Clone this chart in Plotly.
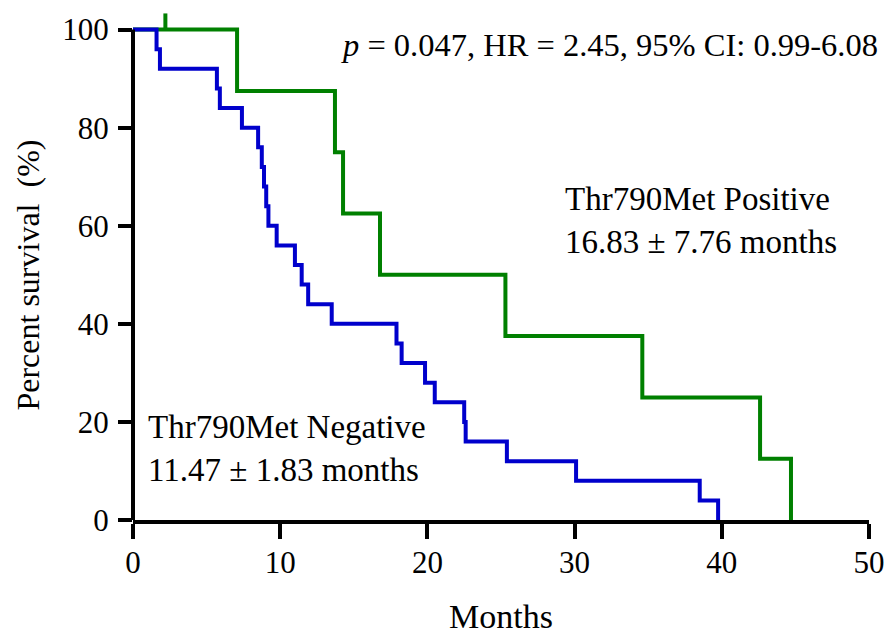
import plotly.graph_objects as go

# Kaplan-Meier data
neg_times = [0, 1.6, 1.83, 5.7, 5.9, 7.4, 8.5, 8.75, 8.9, 9.05, 9.2, 9.76, 11.0, 11.46,
             11.9, 13.5, 17.9, 18.25, 19.84, 20.5, 22.5, 22.6, 25.4, 30.1, 38.5, 39.75]
neg_surv = [100, 96, 92, 88, 84, 80, 76, 72, 68, 64, 60, 56, 52, 48,
            44, 40, 36, 32, 28, 24, 20, 16, 12, 8, 4, 0]
pos_times = [0, 7.07, 13.72, 14.27, 16.78, 25.3, 34.6, 42.6, 44.7]
pos_surv = [100, 87.5, 75, 62.5, 50, 37.5, 25, 12.5, 0]
pos_censor_t = [2.2]
pos_censor_s = [100]

x_ticks = [0, 10, 20, 30, 40, 50]
y_ticks = [0, 20, 40, 60, 80, 100]

FONT = "Liberation Serif"
BLUE = "#0000CC"
GREEN = "#008000"
X_RANGE = [0, 50]
Y_RANGE = [0, 104]
CENSOR_H = 3.3

cx, cy = [], []
for t, s in zip(pos_censor_t, pos_censor_s):
    cx += [t, t, None]
    cy += [s, s + CENSOR_H, None]

fig = go.Figure()
fig.add_trace(go.Scatter(x=pos_times, y=pos_surv, mode="lines", line_shape="hv",
                         line=dict(color=GREEN, width=4), showlegend=False))
fig.add_trace(go.Scatter(x=cx, y=cy, mode="lines",
                         line=dict(color=GREEN, width=4), showlegend=False))
fig.add_trace(go.Scatter(x=neg_times, y=neg_surv, mode="lines", line_shape="hv",
                         line=dict(color=BLUE, width=4), showlegend=False))

# y-axis line (only up to the last tick)
fig.add_shape(type="line", xref="paper", yref="paper", x0=0, x1=0,
              y0=0, y1=y_ticks[-1] / Y_RANGE[1], line=dict(color="black", width=4))

fig.add_annotation(x=1.015, y=0.932, xref="paper", yref="paper", xanchor="right", yanchor="middle",
                   text="<i>p</i> = 0.047, HR = 2.45, 95% CI: 0.99-6.08",
                   showarrow=False, font=dict(family=FONT, size=32.5, color="black"))
fig.add_annotation(x=29.2, y=61.0, xref="x", yref="y", xanchor="left", yanchor="middle",
                   align="left", text="Thr790Met Positive<br>16.83 ± 7.76 months",
                   showarrow=False, font=dict(family=FONT, size=33, color="black"))
fig.add_annotation(x=0.9, y=14.5, xref="x", yref="y", xanchor="left", yanchor="middle",
                   align="left", text="Thr790Met Negative<br>11.47 ± 1.83 months",
                   showarrow=False, font=dict(family=FONT, size=33, color="black"))
# y-axis title, centred on the 0-100 span
fig.add_annotation(x=-0.143, y=(y_ticks[0] + y_ticks[-1]) / 2, xref="paper", yref="y",
                   xanchor="center", yanchor="middle", textangle=-90,
                   text="Percent survival  (%)", showarrow=False,
                   font=dict(family=FONT, size=32, color="black"))

fig.update_layout(
    width=886, height=635,
    margin=dict(l=133, r=17, t=10, b=115),
    plot_bgcolor="white", paper_bgcolor="white",
    font=dict(family=FONT, size=31, color="black"),
)
fig.update_xaxes(range=X_RANGE, tickvals=x_ticks, ticks="outside", ticklen=15, tickwidth=4,
                 tickcolor="black", showline=True, linewidth=4, linecolor="black",
                 showgrid=False, zeroline=False, automargin=False, ticklabelstandoff=-3,
                 tickfont=dict(family=FONT, size=31),
                 title=dict(text="Months", font=dict(family=FONT, size=34), standoff=43))
fig.update_yaxes(range=Y_RANGE, tickvals=y_ticks, ticks="outside", ticklen=14, tickwidth=4,
                 tickcolor="black", showline=False, showgrid=False, zeroline=False,
                 automargin=False, ticklabelstandoff=3,
                 tickfont=dict(family=FONT, size=31))

fig.write_html("out.html")
